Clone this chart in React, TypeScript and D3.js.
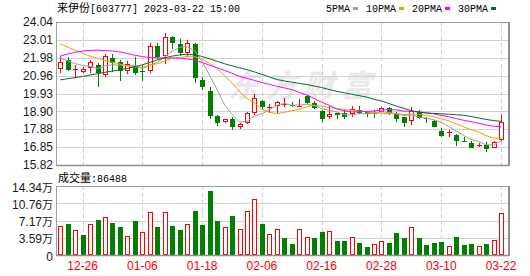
import React from "react";
import * as d3 from "d3";

const dates = [
  "12-21","12-22","12-23","12-26","12-27","12-28","12-29","12-30",
  "01-03","01-04","01-05","01-06","01-09","01-10","01-11","01-12","01-13","01-16","01-17","01-18","01-19","01-20","01-30","01-31",
  "02-01","02-02","02-03","02-06","02-07","02-08","02-09","02-10","02-13","02-14","02-15","02-16","02-17","02-20","02-21","02-22","02-23","02-24","02-27","02-28",
  "03-01","03-02","03-03","03-06","03-07","03-08","03-09","03-10","03-13","03-14","03-15","03-16","03-17","03-20","03-21","03-22",
];
const opens = [21.32,21.86,21.30,21.18,21.41,21.57,20.99,21.97,21.72,21.24,21.51,21.25,21.24,22.66,22.10,23.20,22.78,22.28,22.78,20.71,20.07,18.64,18.28,18.45,17.99,18.22,18.83,19.50,19.12,19.21,19.30,19.27,19.16,19.78,19.40,18.94,18.56,18.79,18.83,18.75,18.98,18.88,18.82,18.88,19.08,18.75,18.56,18.35,18.88,18.54,18.35,17.77,17.66,17.55,17.20,17.06,16.95,16.97,16.81,17.26];
const highs = [22.08,22.00,21.57,21.44,21.86,21.67,22.22,22.20,21.86,21.82,22.01,21.55,22.82,22.82,23.40,23.22,23.04,23.03,22.82,20.85,20.32,18.69,18.48,18.56,18.22,18.88,19.90,19.56,19.33,19.52,19.65,19.46,19.60,19.84,19.52,18.98,19.20,18.83,18.98,19.21,19.20,18.92,18.98,19.17,19.17,18.88,18.60,19.15,18.98,18.60,18.41,17.93,17.83,17.58,17.45,17.20,17.10,17.16,17.22,18.69];
const lows = [21.13,21.22,20.80,21.09,21.13,20.29,20.86,21.15,20.67,21.05,20.99,20.67,21.13,21.90,21.65,22.47,22.10,22.05,20.55,20.15,18.45,18.08,18.26,17.83,17.91,18.16,18.70,18.98,18.79,18.79,19.17,19.17,19.14,19.33,19.02,18.31,18.48,18.46,18.45,18.56,18.73,18.56,18.50,18.85,18.69,18.31,17.99,18.12,18.46,18.22,17.99,17.45,17.45,16.93,17.16,16.81,16.83,16.55,16.78,17.20];
const closes = [21.74,21.28,21.36,21.34,21.72,21.09,22.08,21.67,21.24,21.61,21.13,21.15,22.66,22.05,23.18,22.81,22.24,22.82,20.80,20.29,18.63,18.22,18.45,17.99,18.16,18.83,19.70,19.14,19.16,19.44,19.35,19.20,19.22,19.37,19.08,18.45,18.75,18.69,18.60,19.02,18.79,18.74,18.76,19.08,18.83,18.45,18.22,18.90,18.50,18.46,18.02,17.50,17.70,17.20,17.16,16.81,16.99,16.74,17.16,18.27];
// volume in 万 (10k)
const volumes = [6.03,6.44,5.20,4.16,6.44,7.27,7.83,6.72,5.89,3.95,7.14,4.78,8.94,5.89,8.94,6.03,5.20,6.44,9.21,6.24,13.37,7.14,5.75,8.10,5.33,9.14,11.64,6.44,4.36,5.33,3.47,2.29,5.33,3.68,3.47,4.78,4.92,2.98,2.98,3.68,2.56,1.60,2.22,2.91,2.56,4.64,3.47,5.75,3.47,2.08,2.56,2.77,1.87,3.68,2.08,2.29,1.81,2.29,3.12,8.6488];

const ma5Early = [21.97,21.80,21.65,21.54];
const ma10Early = [22.78,22.60,22.42,22.24,22.08,21.95,21.83,21.72,21.62];
const ma20Early = [22.08,22.20,22.30,22.37,22.41,22.42,22.40,22.37,22.32,22.23,22.13,22.05,22.00,21.98,21.97,21.97,21.96,21.92,21.84];
const ma30Early = [20.71,20.78,20.84,20.91,20.99,21.07,21.15,21.22,21.30,21.37,21.47,21.58,21.72,21.86,21.98,22.08,22.15,22.19,22.15,22.06,21.92,21.78,21.64,21.52,21.41,21.30,21.17,21.03,20.88];

const priceTicks = ["15.82","16.85","17.88","18.90","19.93","20.96","21.98","23.01","24.04"];
const volTicks = ["0","3.59","7.17","10.76","14.34"];
const xTickLabels = ["12-26","01-06","01-18","02-06","02-16","02-28","03-10","03-22"];
const maNames = ["5PMA","10PMA","20PMA","30PMA"];
const maPeriods = [5,10,20,30];
const maEarly = [ma5Early, ma10Early, ma20Early, ma30Early];
const maColors = ["#a0a0a0","#f0a000","#ff00ff","#006e32"];

const title = { name: "来伊份", rest: "[603777] 2023-03-22 15:00" };

const RED = "#ff0000";
const GREEN = "#008000";

export default function App() {
  const W = 530, H = 276;
  const left = 56, right = 509, top = 22, mainBottom = 165, volTop = 186, volBottom = 255;

  const x = d3.scalePoint<string>().domain(dates).range([60.2, 501]);
  const pDom = [Number(priceTicks[0]), Number(priceTicks[priceTicks.length - 1])];
  const y = d3.scaleLinear().domain(pDom).range([mainBottom, top]);
  const yv = d3.scaleLinear().domain([0, Number(volTicks[volTicks.length - 1])]).range([volBottom, volTop]);

  const maSeries = maPeriods.map((n, k) =>
    closes.map((c, i) => (i >= n - 1 ? (d3.mean(closes.slice(i - n + 1, i + 1)) as number) : maEarly[k][i]))
  );
  const line = d3
    .line<number>()
    .x((_, i) => x(dates[i]) as number)
    .y((v) => y(v));

  const crisp = (v: number) => Math.round(v) + 0.5;
  const bw = 5;

  const mono = "'Liberation Mono', 'DejaVu Sans Mono', monospace";
  const cjk = "'Noto Sans CJK SC', sans-serif";
  const sans = "'Liberation Sans', Arial, sans-serif";

  // legend layout
  let cursor = 326;
  const legendItems = maNames.map((name, k) => {
    const tx = cursor;
    const tw = name.length * 6;
    const sx = tx + tw + 3;
    cursor = sx + 5 + 8;
    return { name, tx, sx, color: maColors[k] };
  });

  const lastVol = volumes[volumes.length - 1];

  return (
    <svg
      width={W}
      height={H}
      viewBox={`0 0 ${W} ${H}`}
      style={{ position: "absolute", left: 0, top: 0, background: "#fff" }}
    >
      <rect x={0} y={0} width={W} height={H} fill="#fff" />
      {/* title */}
      <text x={57} y={12} fill="#000">
        <tspan fontFamily={cjk} fontSize={11}>{title.name}</tspan>
        <tspan fontFamily={mono} fontSize={10}>{title.rest}</tspan>
      </text>
      {/* legend */}
      {legendItems.map((it) => (
        <g key={it.name}>
          <text x={it.tx} y={12} fontFamily={mono} fontSize={10} fill="#000">{it.name}</text>
          <rect x={it.sx} y={7} width={5} height={3} fill={it.color} />
        </g>
      ))}

      {/* watermark */}
      <text x={228} y={97} fontFamily={cjk} fontSize={31} fontWeight="bold" fill="#e9e9e9" textLength={144} fontStyle="italic">东方财富</text>

      {/* main grid */}
      {priceTicks.map((t) => (
        <line key={"pg" + t} x1={left} x2={right} y1={crisp(y(Number(t)))} y2={crisp(y(Number(t)))} stroke="#d2d2d2" />
      ))}
      {xTickLabels.map((d) => (
        <g key={"vg" + d}>
          <line x1={crisp(x(d) as number)} x2={crisp(x(d) as number)} y1={top} y2={mainBottom} stroke="#cfcfcf" strokeDasharray="4,3" />
          <line x1={crisp(x(d) as number)} x2={crisp(x(d) as number)} y1={volTop} y2={volBottom} stroke="#cfcfcf" strokeDasharray="4,3" />
        </g>
      ))}
      {volTicks.map((t) => (
        <line key={"vgl" + t} x1={left} x2={right} y1={crisp(yv(Number(t)))} y2={crisp(yv(Number(t)))} stroke="#d2d2d2" />
      ))}

      {/* candles */}
      {dates.map((d, i) => {
        const cx = crisp(x(d) as number);
        const o = opens[i], c = closes[i];
        const up = c >= o;
        const color = up ? RED : GREEN;
        const yTop = Math.round(y(Math.max(o, c)));
        const yBot = Math.round(y(Math.min(o, c)));
        const h = Math.max(1, yBot - yTop);
        return (
          <g key={"c" + d}>
            <line x1={cx} x2={cx} y1={Math.round(y(highs[i]))} y2={Math.round(y(lows[i]))} stroke={color} />
            {up ? (
              h <= 1 ? (
                <rect x={cx - 2.5} y={yTop} width={bw} height={1} fill={color} />
              ) : (
                <rect x={cx - 2} y={yTop + 0.5} width={bw - 1} height={h - 1} fill="#fff" stroke={color} />
              )
            ) : (
              <rect x={cx - 2.5} y={yTop} width={bw} height={h} fill={color} />
            )}
          </g>
        );
      })}

      {/* moving averages */}
      {maSeries.map((s, k) => (
        <path key={"ma" + k} d={line(s) || ""} fill="none" stroke={maColors[k]} strokeWidth={1} />
      ))}

      {/* volume bars */}
      {dates.map((d, i) => {
        const cx = crisp(x(d) as number);
        const up = i === 0 ? closes[i] >= opens[i] : closes[i] >= closes[i - 1];
        const yt = Math.round(yv(volumes[i]));
        const h = volBottom - yt;
        return up ? (
          <rect key={"v" + d} x={cx - 2} y={yt + 0.5} width={bw - 1} height={h - 1} fill="#fff" stroke={RED} />
        ) : (
          <rect key={"v" + d} x={cx - 2.5} y={yt} width={bw} height={h} fill={GREEN} />
        );
      })}

      {/* frames */}
      <rect x={left + 0.5} y={top + 0.5} width={right - left - 1} height={mainBottom - top} fill="none" stroke="#a0a0a0" />
      <line x1={right} x2={right} y1={top} y2={mainBottom + 1} stroke="#909090" strokeWidth={2} />
      <line x1={left} x2={right} y1={mainBottom + 0.5} y2={mainBottom + 0.5} stroke="#909090" strokeWidth={1.5} />
      <rect x={left + 0.5} y={volTop + 0.5} width={right - left - 1} height={volBottom - volTop} fill="none" stroke="#a0a0a0" />
      <line x1={right} x2={right} y1={volTop} y2={volBottom + 1} stroke="#909090" strokeWidth={2} />
      <line x1={left} x2={right} y1={volBottom + 0.5} y2={volBottom + 0.5} stroke="#909090" strokeWidth={1.5} />

      {/* price axis labels */}
      {priceTicks.map((t) => (
        <text key={"pl" + t} x={53} y={y(Number(t))} dy="0.35em" textAnchor="end" fontFamily={sans} fontSize={12} fill="#1a1a1a">{t}</text>
      ))}

      {/* volume label */}
      <text x={58} y={182} fill="#000">
        <tspan fontFamily={cjk} fontSize={11}>成交量</tspan>
        <tspan fontFamily={mono} fontSize={10}>{":" + Math.round(lastVol * 10000)}</tspan>
      </text>

      {/* volume axis labels */}
      {volTicks.map((t) => (
        <text key={"vl" + t} x={53} y={yv(Number(t))} dy="0.35em" textAnchor="end" fill="#1a1a1a">
          <tspan fontFamily={sans} fontSize={12}>{t}</tspan>
          {t !== "0" ? <tspan fontFamily={cjk} fontSize={11}>万</tspan> : null}
        </text>
      ))}

      {/* x axis labels */}
      {xTickLabels.map((d) => (
        <text key={"xl" + d} x={x(d) as number} y={270} textAnchor="middle" fontFamily={sans} fontSize={12} fill={RED}>{d}</text>
      ))}
    </svg>
  );
}
